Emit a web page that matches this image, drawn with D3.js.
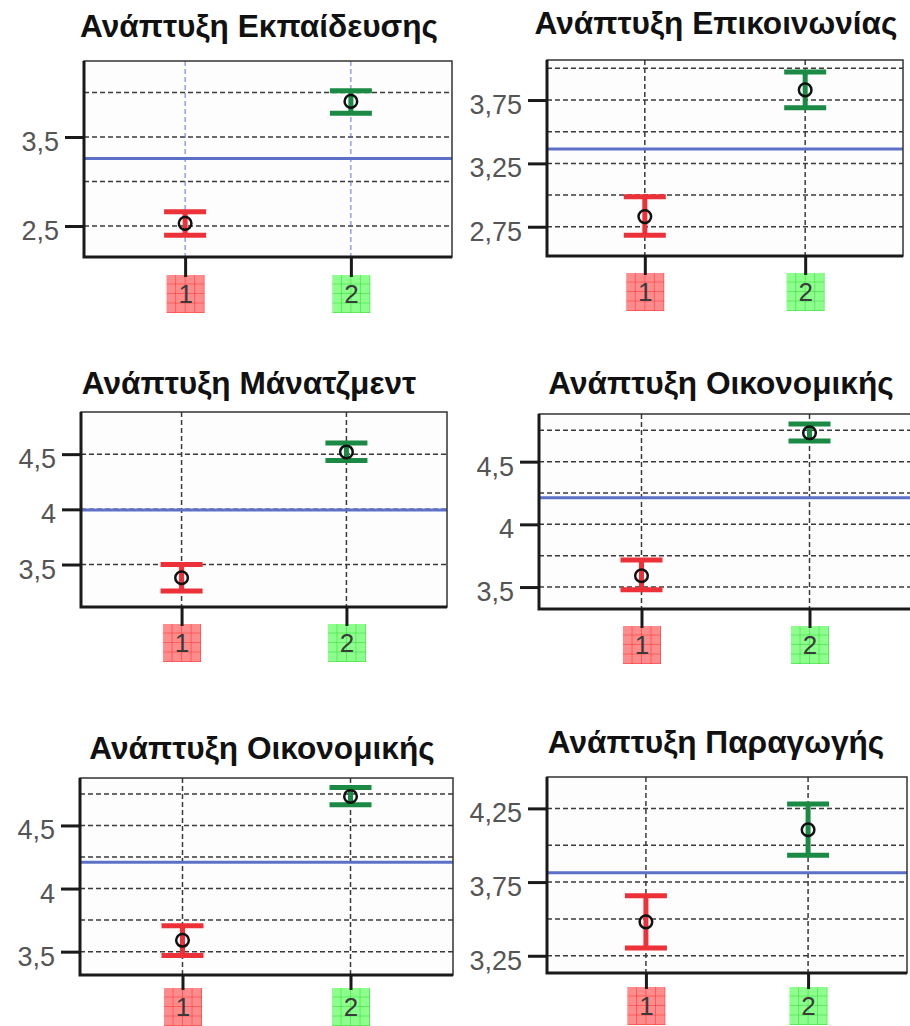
<!DOCTYPE html>
<html>
<head>
<meta charset="utf-8">
<script src="https://cdn.jsdelivr.net/npm/d3@7"></script>
<style>
  html, body { margin: 0; padding: 0; background: #fff; }
  svg { display: block; }
</style>
</head>
<body>
<svg id="chart" width="910" height="1026"></svg>
<script>
// data
const titles = [
    'Ανάπτυξη Εκπαίδευσης',
    'Ανάπτυξη Επικοινωνίας',
    'Ανάπτυξη Μάνατζμεντ',
    'Ανάπτυξη Οικονομικής',
    'Ανάπτυξη Οικονομικής',
    'Ανάπτυξη Παραγωγής'
]
const groups = ['1', '2']
const means = [[2.53, 3.90], [2.83, 3.83], [3.38, 4.52], [3.59, 4.73], [3.59, 4.73], [3.48, 4.105]]
const lowers = [[2.395, 3.766], [2.682, 3.689], [3.26, 4.442], [3.478, 4.665], [3.47, 4.665], [3.302, 3.932]]
const uppers = [[2.66, 4.02], [2.987, 3.971], [3.50, 4.60], [3.715, 4.80], [3.706, 4.80], [3.657, 4.28]]
const refValues = [3.26, 3.363, 3.994, 4.213, 4.208, 3.813]
const yTicks = [
    [2.5, 3.5],
    [2.75, 3.25, 3.75],
    [3.5, 4, 4.5],
    [3.5, 4, 4.5],
    [3.5, 4, 4.5],
    [3.25, 3.75, 4.25]
]
const gridValues = [
    [2.5, 3, 3.5, 4],
    [2.75, 3, 3.25, 3.5, 3.75, 4],
    [3.5, 4, 4.5],
    [3.5, 3.75, 4, 4.25, 4.5, 4.75],
    [3.5, 3.75, 4, 4.25, 4.5, 4.75],
    [3.25, 3.5, 3.75, 4, 4.25]
]
const yDomains = [[2.152, 4.354], [2.519, 4.066], [3.115, 4.882], [3.325, 4.88], [3.315, 4.876], [3.133, 4.463]]

// layout of each panel (plot box, title anchor, gap to label box)
const panels = [
    { left: 84, top: 61, right: 452, bottom: 257, tx: 259, ty: 37, gap: 18 },
    { left: 547, top: 60, right: 903, bottom: 256, tx: 716, ty: 34, gap: 17 },
    { left: 81, top: 412, right: 447, bottom: 607, tx: 249, ty: 394, gap: 17 },
    { left: 539, top: 414, right: 912, bottom: 609, tx: 721, ty: 394, gap: 17 },
    { left: 80, top: 778, right: 453, bottom: 975, tx: 262, ty: 759, gap: 13 },
    { left: 547, top: 777, right: 907, bottom: 973, tx: 716, ty: 753, gap: 14 }
]

const groupColors = ['#ec3138', '#1a8a45']
const boxFill = ['#ff8c8c', '#8cff8c']
const boxLine = ['#ff2a2a', '#2fd62f']
const refColor = '#5b70c6'

const locale = d3.formatLocale({ decimal: ',', thousands: '.', grouping: [3], currency: ['', ''] })
const fmt = locale.format('~f')

const svg = d3.select('#chart')
const defs = svg.append('defs')

panels.forEach(function (p, i) {
    let w = p.right - p.left,
        h = p.bottom - p.top,
        bs = 38 //label box size

    let x = d3.scalePoint().domain(groups).range([0, w]).padding(0.61)
    let y = d3.scaleLinear().domain(yDomains[i]).range([h, 0])

    let g = svg.append('g').attr('transform', 'translate(' + p.left + ',' + p.top + ')')

    g.append('rect')
        .attr('width', w).attr('height', h)
        .attr('fill', '#fdfdfd')

    // horizontal grid
    g.selectAll('.hgrid')
        .data(gridValues[i])
        .enter().append('line')
        .attr('x1', 0).attr('x2', w)
        .attr('y1', d => y(d)).attr('y2', d => y(d))
        .attr('stroke', '#3a3a3a')
        .attr('stroke-width', 1.5)
        .attr('stroke-dasharray', '5,3')

    // vertical grid at groups (first panel has blue ones)
    g.selectAll('.vgrid')
        .data(groups)
        .enter().append('line')
        .attr('x1', d => x(d)).attr('x2', d => x(d))
        .attr('y1', 0).attr('y2', h)
        .attr('stroke', i == 0 ? '#5a72d6' : '#3a3a3a')
        .attr('stroke-width', i == 0 ? 1 : 1.5)
        .attr('stroke-dasharray', '5,3')

    // reference line
    g.append('line')
        .attr('x1', 0).attr('x2', w)
        .attr('y1', y(refValues[i])).attr('y2', y(refValues[i]))
        .attr('stroke', refColor)
        .attr('stroke-width', 3)

    // error bars
    let bars = g.selectAll('.bar')
        .data(groups.map((gr, k) => ({ g: gr, k: k, m: means[i][k], lo: lowers[i][k], hi: uppers[i][k] })))
        .enter().append('g')
        .attr('transform', d => 'translate(' + x(d.g) + ',0)')

    bars.append('line')
        .attr('y1', d => y(d.hi)).attr('y2', d => y(d.lo))
        .attr('stroke', d => groupColors[d.k])
        .attr('stroke-width', 5)
    bars.selectAll('.cap')
        .data(d => [d.hi, d.lo].map(v => ({ v: v, k: d.k })))
        .enter().append('line')
        .attr('x1', -21).attr('x2', 21)
        .attr('y1', d => y(d.v)).attr('y2', d => y(d.v))
        .attr('stroke', d => groupColors[d.k])
        .attr('stroke-width', 5)
    bars.append('circle')
        .attr('cy', d => y(d.m))
        .attr('r', 6.3)
        .attr('fill', 'none')
        .attr('stroke', '#111')
        .attr('stroke-width', 2.5)

    // frame
    g.append('rect')
        .attr('width', w).attr('height', h)
        .attr('fill', 'none')
        .attr('stroke', '#333')
        .attr('stroke-width', 1.5)
    g.append('path')
        .attr('d', 'M0,0V' + h + 'H' + w)
        .attr('fill', 'none')
        .attr('stroke', '#1a1a1a')
        .attr('stroke-width', 3)

    // y axis
    let yAxis = g.append('g')
        .call(d3.axisLeft(y).tickValues(yTicks[i]).tickFormat(fmt).tickSize(19).tickPadding(6))
    yAxis.select('.domain').remove()
    yAxis.selectAll('line').attr('stroke', '#1a1a1a').attr('stroke-width', 3)
    yAxis.selectAll('text')
        .attr('fill', '#555')
        .attr('dy', '0.5em')
        .style('font-family', '"Liberation Sans", Arial, sans-serif')
        .style('font-size', '27px')

    // x axis with highlighted labels
    let xAxis = g.append('g')
        .attr('transform', 'translate(0,' + h + ')')
        .call(d3.axisBottom(x).tickSize(p.gap + 2).tickPadding(0))
    xAxis.select('.domain').remove()

    groups.forEach(function (gr, k) {
        let pid = 'pat' + i + '_' + k
        let pat = defs.append('pattern')
            .attr('id', pid)
            .attr('patternUnits', 'userSpaceOnUse')
            .attr('x', -bs / 2).attr('y', p.gap)
            .attr('width', bs / 4).attr('height', bs / 4)
        pat.append('rect').attr('width', bs / 4).attr('height', bs / 4).attr('fill', boxFill[k])
        pat.append('path')
            .attr('d', 'M' + bs / 4 + ',0V' + bs / 4 + 'M0,' + bs / 4 + 'H' + bs / 4)
            .attr('stroke', boxLine[k])
            .attr('stroke-width', 1)
    })

    xAxis.selectAll('.tick').each(function (d, k) {
        let t = d3.select(this)
        t.insert('rect', 'line')
            .attr('x', -bs / 2).attr('y', p.gap)
            .attr('width', bs).attr('height', bs)
            .attr('fill', 'url(#pat' + i + '_' + k + ')')
    })
    xAxis.selectAll('line').attr('stroke', '#1a1a1a').attr('stroke-width', 3)
    xAxis.selectAll('text')
        .attr('y', p.gap + bs / 2)
        .attr('dy', '0.36em')
        .attr('fill', '#3a3a3a')
        .style('font-family', '"Liberation Sans", Arial, sans-serif')
        .style('font-size', '26px')

    // title
    svg.append('text')
        .attr('class', 'title')
        .attr('x', p.tx).attr('y', p.ty)
        .attr('text-anchor', 'middle')
        .style('font-family', '"Liberation Sans", Arial, sans-serif')
        .style('font-weight', 'bold')
        .style('font-size', '28px')
        .attr('fill', '#111')
        .text(titles[i])
})

// fit title size to the width of the first title in the picture (~358px)
let firstW = svg.select('.title').node().getComputedTextLength()
let titleSize = 28 * 358 / firstW
svg.selectAll('.title').style('font-size', titleSize + 'px')
</script>
</body>
</html>
